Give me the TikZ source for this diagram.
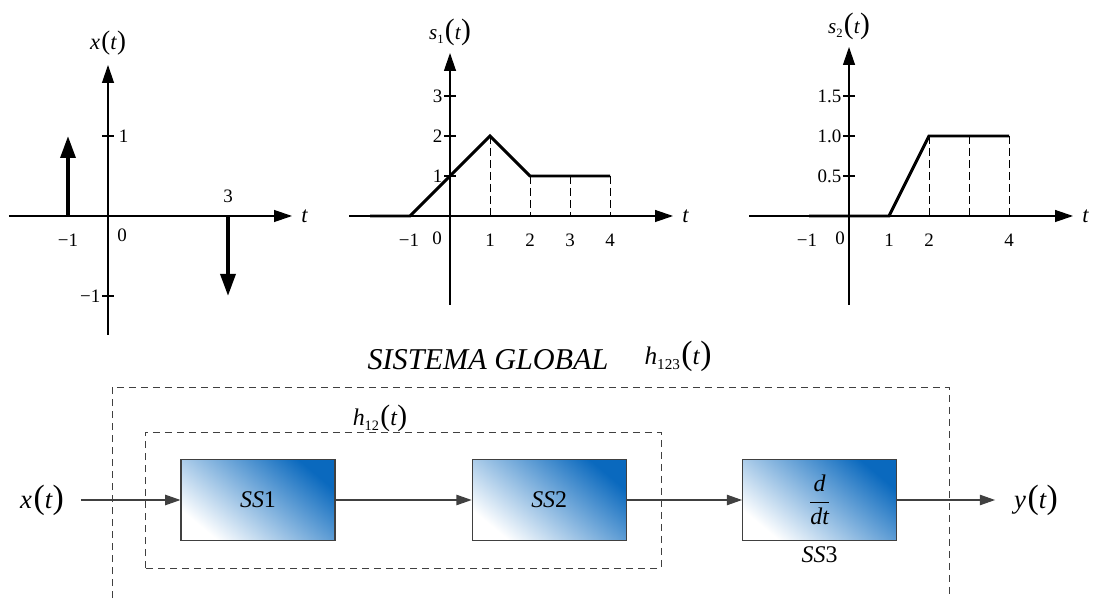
\documentclass[tikz,border=0pt]{standalone}
\usepackage{fontspec}
\setmainfont{Liberation Serif}
\usepackage{graphicx}
\usetikzlibrary{calc,positioning,arrows.meta}
\definecolor{boxblue}{RGB}{10,105,190}
\definecolor{linegray}{RGB}{64,64,64}

% letter size, paren size, name, argument
\newcommand{\fnof}[4]{%
  {\fontsize{#1}{#1}\selectfont#3\kern0.06em}%
  {\fontsize{#2}{#2}\selectfont(}%
  {\fontsize{#1}{#1}\selectfont\textit{#4}}%
  {\fontsize{#2}{#2}\selectfont)}}
\newcommand{\subidx}[1]{\raisebox{-0.45ex}{\scalebox{0.6}{#1}}}

\begin{document}
\begin{tikzpicture}[
  taxis/.style={line width=0.9pt, -{Triangle[length=0.45cm,width=0.3cm]}},
  sigline/.style={line width=2.1pt, line join=miter},
  impulse/.style={line width=2.8pt, -{Triangle[length=0.55cm,width=0.37cm]}},
  dropline/.style={line width=0.7pt, dash pattern=on 0.2cm off 0.1cm},
  ticklbl/.style={font=\fontsize{13.5}{13.5}\selectfont, inner sep=1pt},
  block/.style={draw=linegray, line width=0.8pt, minimum width=3.85cm, minimum height=2.03cm,
    top color=white, bottom color=boxblue, shading angle=140},
  groupbox/.style={draw=linegray, line width=0.6pt, dash pattern=on 0.18cm off 0.12cm},
  flow/.style={draw=linegray, line width=0.8pt, -{Triangle[length=0.38cm,width=0.26cm]}},
]
  \useasboundingbox (0,0) rectangle (27.4,14.95);

  % x(t)
  \begin{scope}[shift={(2.7,9.55)}, yscale=2]
    \draw[taxis] (-2.475,0) -- (4.6,0) node[right=0.1cm] (xt) {\fontsize{16}{16}\selectfont\textit{t}};
    \draw[taxis] (0,-1.4875) -- (0,1.8875) node[above=0.12cm] (xlbl) {\fnof{16}{19}{\textit{x}}{t}};
    \foreach \y in {1,-1} \draw[line width=0.9pt] (-0.15,\y) -- (0.15,\y);
    \draw[impulse] (-1,0) -- (-1,1);
    \draw[impulse] (3,0) -- (3,-1);
    \node[ticklbl,right=0.08cm] (x1) at (0.15,1) {1};
    \node[ticklbl,left] (xm1) at (-0.15,-1) {−1};
    \node[ticklbl] (x3) at (3,0.24) {3};
    \node[ticklbl] (xtm1) at (-1,-0.3) {−1};
    \node[ticklbl] (x0) at (0.35,-0.24) {0};
  \end{scope}

  % s_1(t)
  \begin{scope}[shift={(11.25,9.55)}]
    \draw[taxis] (-2.525,0) -- (5.575,0) node[right=0.1cm] (s1t) {\fontsize{16}{16}\selectfont\textit{t}};
    \draw[taxis] (0,-2.225) -- (0,4.075) node[above=0.05cm] (s1lbl) {\fnof{15}{21}{\textit{s}\subidx{1}}{t}};
    \foreach \y in {1,2,3} {
      \draw[line width=0.9pt] (-0.15,\y) -- (0.15,\y);
      \node[ticklbl,left] at (-0.15,\y) {\y};
    }
    \draw[dropline] (1,2) -- (1,0);
    \foreach \x in {2,3,4} \draw[dropline] (\x,1) -- (\x,0);
    \draw[sigline] (-2,0) -- (-1,0) -- (1,2) -- (2,1) -- (4,1);
    \node[ticklbl] (s1m1) at (-1.025,-0.6) {−1};
    \node[ticklbl] (s10) at (-0.325,-0.55) {0};
    \foreach \x in {1,2,3,4} \node[ticklbl] at (\x,-0.6) {\x};
  \end{scope}

  % s_2(t)
  \begin{scope}[shift={(21.225,9.55)}, yscale=2]
    \draw[taxis] (-2.5,0) -- (5.6,0) node[right=0.1cm] (s2t) {\fontsize{16}{16}\selectfont\textit{t}};
    \draw[taxis] (0,-1.1125) -- (0,2.1125) node[above=0.05cm] (s2lbl) {\fnof{15}{21}{\textit{s}\subidx{2}}{t}};
    \foreach \y/\v in {0.5/0.5,1/1.0,1.5/1.5} {
      \draw[line width=0.9pt] (-0.15,\y) -- (0.15,\y);
      \node[ticklbl,left] at (-0.15,\y) {\v};
    }
    \foreach \x in {2,3,4} \draw[dropline] (\x,1) -- (\x,0);
    \draw[sigline] (-1,0) -- (1,0) -- (2,1) -- (4,1);
    \node[ticklbl] (s2m1) at (-1.05,-0.3) {−1};
    \node[ticklbl] (s20) at (-0.225,-0.275) {0};
    \foreach \x in {1,2,4} \node[ticklbl] at (\x,-0.3) {\x};
  \end{scope}

  % system blocks
  \draw[groupbox] (2.8,0) -- (2.8,5.275) -- (23.725,5.275) -- (23.725,0);
  \draw[groupbox] (3.625,0.75) rectangle (16.525,4.15);
  \node (glbl) at (12.2,5.95) {\fontsize{21.5}{21.5}\selectfont\textit{SISTEMA GLOBAL}};
  \node (h123) at (16.95,6.05) {\fnof{18}{24}{\textit{h}\subidx{123}}{t}};
  \node (h12) at (9.5,4.5) {\fnof{17}{21}{\textit{h}\subidx{12}}{t}};

  \node[block] (ss1) at (6.45,2.45) {\fontsize{17}{17}\selectfont\textit{SS}1};
  \node[block] (ss2) at (13.73,2.45) {\fontsize{17}{17}\selectfont\textit{SS}2};
  \node[block] (ss3) at (20.49,2.45) {\fontsize{17}{17}\selectfont$\displaystyle\frac{\textit{d}}{\textit{dt}}$};
  \node[below=0.02cm of ss3] (ss3lbl) {\fontsize{17}{17}\selectfont\textit{SS}3};

  \node (xin) at (1.05,2.45) {\fnof{19}{24}{\textit{x}}{t}};
  \node (yout) at (25.9,2.45) {\fnof{19}{24}{\textit{y}}{t}};

  \draw[flow] ([xshift=0.3cm]xin.east) -- (ss1.west);
  \draw[flow] (ss1) -- (ss2);
  \draw[flow] (ss2) -- (ss3);
  \draw[flow] (ss3) -- ([xshift=-0.35cm]yout.west);
\end{tikzpicture}
\end{document}
